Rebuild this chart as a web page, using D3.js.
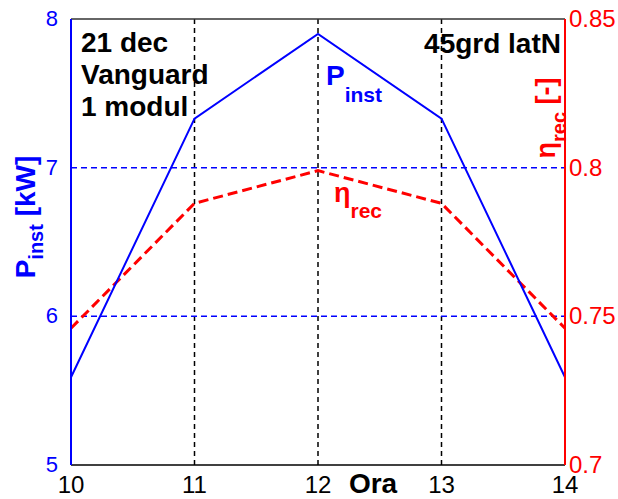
<!DOCTYPE html>
<html><head><meta charset="utf-8">
<script src="https://cdn.jsdelivr.net/npm/d3@7"></script>
<style>body{margin:0;background:#fff}svg{display:block;font-family:Arial,"Liberation Sans",sans-serif}</style>
</head><body><svg id="c" width="618" height="499"></svg>
<script>
const hours = [10, 11, 12, 13, 14];
const pInst = [5.59, 7.33, 7.90, 7.33, 5.59];
const etaRec = [0.746, 0.788, 0.799, 0.788, 0.746];
const xTicks = [10, 11, 12, 13, 14];
const yLeftTicks = [5, 6, 7, 8];
const yRightTicks = [0.7, 0.75, 0.8, 0.85];
const xGrid = [11, 12, 13];
const yGrid = [6, 7];

const L = 71, R = 565, T = 19, B = 465;
const svg = d3.select("#c");
const x = d3.scaleLinear().domain([10, 14]).range([L, R]);
const yL = d3.scaleLinear().domain([5, 8]).range([B, T]);
const yR = d3.scaleLinear().domain([0.7, 0.85]).range([B, T]);

// grid
svg.selectAll(".vg").data(xGrid).join("line")
  .attr("x1", d => x(d)).attr("x2", d => x(d)).attr("y1", T).attr("y2", B)
  .attr("stroke", "#000").attr("stroke-width", 1.5).attr("stroke-dasharray", "5,4");
svg.selectAll(".hg").data(yGrid).join("line")
  .attr("x1", L).attr("x2", R).attr("y1", d => yL(d)).attr("y2", d => yL(d))
  .attr("stroke", "#0000ff").attr("stroke-width", 1.5).attr("stroke-dasharray", "6,4");

// lines
svg.append("path").datum(hours.map((h, i) => [h, etaRec[i]]))
  .attr("d", d3.line().x(d => x(d[0])).y(d => yR(d[1])))
  .attr("fill", "none").attr("stroke", "#ff0000").attr("stroke-width", 3).attr("stroke-dasharray", "10,5");
svg.append("path").datum(hours.map((h, i) => [h, pInst[i]]))
  .attr("d", d3.line().x(d => x(d[0])).y(d => yL(d[1])))
  .attr("fill", "none").attr("stroke", "#0000ff").attr("stroke-width", 2);

// axes frame
svg.append("line").attr("x1", L).attr("x2", R).attr("y1", T).attr("y2", T).attr("stroke", "#333").attr("stroke-width", 1.5);
svg.append("line").attr("x1", L).attr("x2", R).attr("y1", B).attr("y2", B).attr("stroke", "#000").attr("stroke-width", 1.5);
svg.append("line").attr("x1", L).attr("x2", L).attr("y1", T).attr("y2", B).attr("stroke", "#0000ff").attr("stroke-width", 2);
svg.append("line").attr("x1", R).attr("x2", R).attr("y1", T).attr("y2", B).attr("stroke", "#ff0000").attr("stroke-width", 2);

// tick labels
svg.selectAll(".xt").data(xTicks).join("text")
  .attr("x", d => x(d)).attr("y", 493).attr("text-anchor", "middle")
  .attr("font-size", 24).attr("fill", "#000").text(d => d);
svg.selectAll(".ylt").data(yLeftTicks).join("text")
  .attr("x", L - 13).attr("y", d => yL(d) + 7).attr("text-anchor", "end")
  .attr("font-size", 22).attr("fill", "#0000ff").text(d => d);
svg.selectAll(".yrt").data(yRightTicks).join("text")
  .attr("x", R + 4).attr("y", d => yR(d) + 8).attr("text-anchor", "start")
  .attr("font-size", 24).attr("fill", "#ff0000").text(d => d);

// x label
svg.append("text").attr("x", 373).attr("y", 493).attr("text-anchor", "middle")
  .attr("font-size", 28).attr("font-weight", "bold").text("Ora");

// left y label
const ly = svg.append("text").attr("transform", "translate(35,217) rotate(-90)")
  .attr("text-anchor", "middle").attr("font-weight", "bold").attr("fill", "#0000ff").attr("font-size", 28);
ly.append("tspan").text("P");
ly.append("tspan").attr("dy", 8).attr("font-size", 20).text("inst");
ly.append("tspan").attr("dy", -8).text(" [kW]");

// right y label
const ry = svg.append("text").attr("transform", "translate(555,118) rotate(-90)")
  .attr("text-anchor", "middle").attr("font-weight", "bold").attr("fill", "#ff0000").attr("font-size", 27);
ry.append("tspan").text("η");
ry.append("tspan").attr("dy", 11).attr("font-size", 20).text("rec");
ry.append("tspan").attr("dy", -11).text(" [-]");

// annotations
const notes = ["21 dec", "Vanguard", "1 modul"];
svg.selectAll(".nt").data(notes).join("text")
  .attr("x", 81).attr("y", (d, i) => 52 + i * 32)
  .attr("font-size", 28).attr("font-weight", "bold").attr("fill", "#000").text(d => d);
svg.append("text").attr("x", 561).attr("y", 53).attr("text-anchor", "end")
  .attr("font-size", 28).attr("font-weight", "bold").text("45grd latN");

const pa = svg.append("text").attr("x", 326).attr("y", 85).attr("font-weight", "bold").attr("fill", "#0000ff").attr("font-size", 28);
pa.append("tspan").text("P");
pa.append("tspan").attr("dy", 17).attr("font-size", 21).text("inst");

const ea = svg.append("text").attr("x", 334).attr("y", 202).attr("font-weight", "bold").attr("fill", "#ff0000").attr("font-size", 27);
ea.append("tspan").text("η");
ea.append("tspan").attr("dy", 16).attr("font-size", 21).text("rec");
</script></body></html>
